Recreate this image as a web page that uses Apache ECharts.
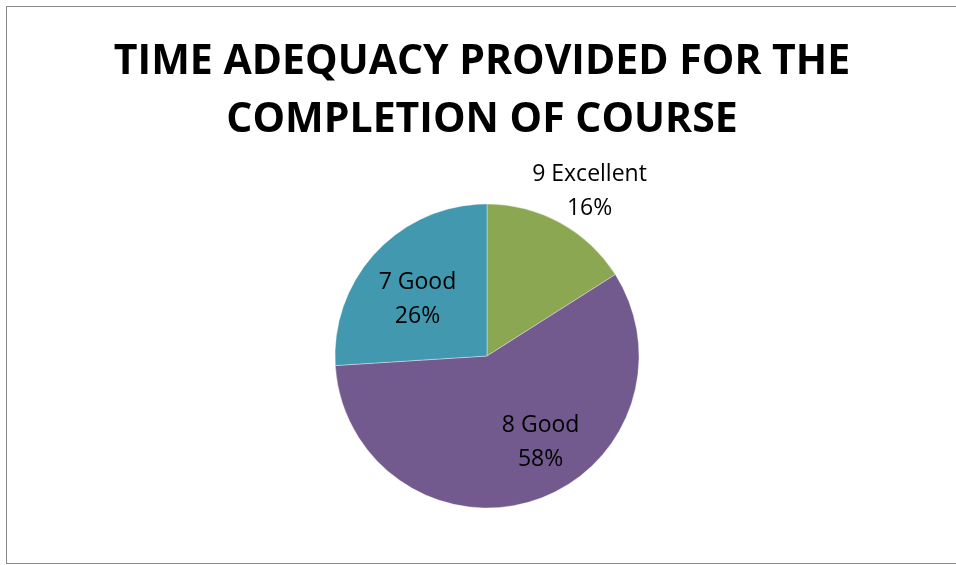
<!DOCTYPE html>
<html>
<head>
  <meta charset="utf-8" />
  <title>Time adequacy</title>
  <script src="https://cdn.jsdelivr.net/npm/echarts@6/dist/echarts.min.js"></script>
  <style>
    html, body { margin: 0; padding: 0; background: #fff; }
    #frame {
      position: absolute;
      left: 6px; top: 6px;
      width: 960px; height: 556px;
      border: 1.5px solid #8a8a8a;
      border-right: none;
    }
    #main { width: 956px; height: 565px; }
  </style>
</head>
<body>
  <div id="frame"></div>
  <div id="main"></div>
  <script>
    // rating categories and their share of responses (%)
    var categories = ['9 Excellent', '8 Good', '7 Good'];
    var shares = [16, 58, 26];
    var colors = ['#8ba752', '#72598e', '#4298af'];

    var total = shares.reduce(function (a, b) { return a + b; }, 0);
    // mid angle of each slice, clockwise from 12 o'clock
    var midAngles = [];
    var acc = 0;
    shares.forEach(function (v) {
      midAngles.push((acc + v / 2) / total * 2 * Math.PI);
      acc += v;
    });
    var R = 152;
    // where each label sits: [fraction of radius, angle in degrees from 12 o'clock]
    var labelPolar = [[1.255, 32], [0.65, 147.8], [0.57, 309]];

    var chart = echarts.init(document.getElementById('main'));
    chart.setOption({
      animation: false,
      title: {
        text: 'TIME ADEQUACY PROVIDED FOR THE\nCOMPLETION OF COURSE',
        left: 477,
        textAlign: 'center',
        top: 28,
        textStyle: {
          fontFamily: 'Open Sans',
          fontWeight: 'bold',
          fontSize: 41,
          lineHeight: 58,
          color: '#000'
        }
      },
      series: [{
        type: 'pie',
        center: [487, 356],
        radius: R,
        startAngle: 90,
        clockwise: true,
        silent: true,
        itemStyle: { borderColor: 'rgba(255,255,255,0.6)', borderWidth: 0.6 },
        label: {
          show: true,
          position: 'inside',
          formatter: '{b}\n{d}%',
          fontFamily: 'Open Sans',
          fontSize: 23,
          lineHeight: 34,
          color: '#000'
        },
        labelLine: { show: false },
        labelLayout: function (p) {
          var i = p.dataIndex;
          var a = midAngles[i];
          var t = labelPolar[i][1] * Math.PI / 180;
          var r = labelPolar[i][0] * R;
          return {
            dx: r * Math.sin(t) - 0.5 * R * Math.sin(a),
            dy: -r * Math.cos(t) + 0.5 * R * Math.cos(a)
          };
        },
        data: categories.map(function (c, i) {
          return { name: c, value: shares[i], itemStyle: { color: colors[i] } };
        })
      }]
    });
  </script>
</body>
</html>
